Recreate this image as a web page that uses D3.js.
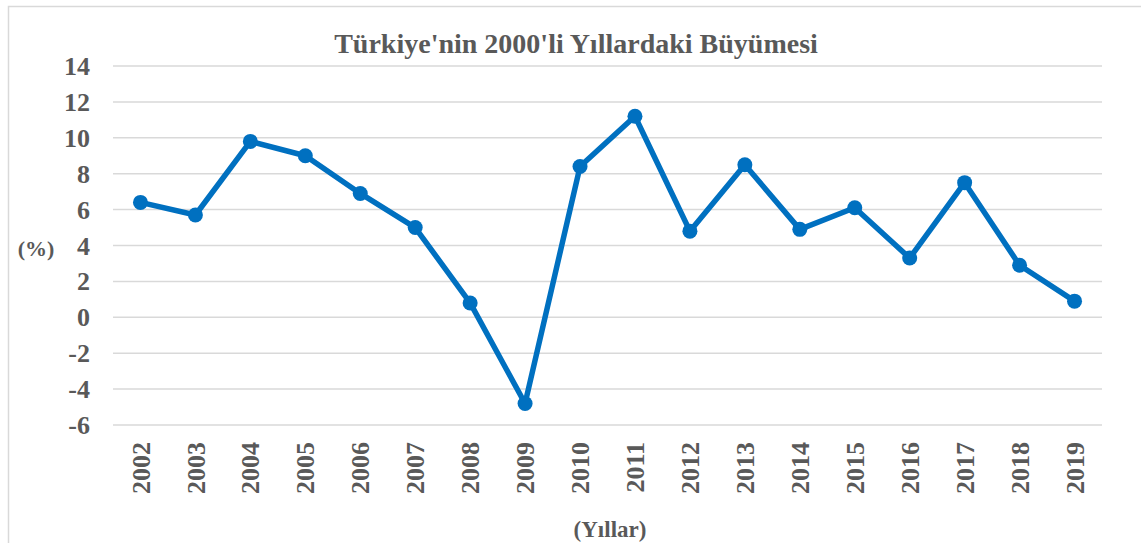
<!DOCTYPE html>
<html>
<head>
<meta charset="utf-8">
<script src="https://cdn.jsdelivr.net/npm/d3@7"></script>
<style>
  html, body { margin: 0; padding: 0; background: #fff; }
  svg { display: block; }
  svg text { font-family: "Liberation Serif", "DejaVu Serif", "Times New Roman", serif !important; font-weight: bold; fill: #595959; }
</style>
</head>
<body>
<div id="chart"></div>
<script>
// data
const years = ["2002", "2003", "2004", "2005", "2006", "2007", "2008", "2009", "2010",
  "2011", "2012", "2013", "2014", "2015", "2016", "2017", "2018", "2019"];
const growth = [6.4, 5.7, 9.8, 9.0, 6.9, 5.0, 0.8, -4.8, 8.4,
  11.2, 4.8, 8.5, 4.9, 6.1, 3.3, 7.5, 2.9, 0.9];
const yTicks = [-6, -4, -2, 0, 2, 4, 6, 8, 10, 12, 14];

const width = 1141, height = 543;
const margin = { top: 66, right: 39, bottom: 118, left: 113 };
const serif = "'Liberation Serif', 'DejaVu Serif', 'Times New Roman', serif";

const svg = d3.select("#chart")
  .append("svg")
  .attr("width", width)
  .attr("height", height)
  .attr("font-family", serif);

// chart frame
svg.append("rect")
  .attr("x", 8.5).attr("y", 6.5)
  .attr("width", width + 10).attr("height", height + 10)
  .attr("fill", "none")
  .attr("stroke", "#d9d9d9")
  .attr("stroke-width", 1.5);

const x = d3.scaleBand()
  .domain(years)
  .range([margin.left, width - margin.right]);

const y = d3.scaleLinear()
  .domain([-6, 14])
  .range([height - margin.bottom, margin.top]);

// gridlines
svg.append("g")
  .selectAll("line")
  .data(yTicks)
  .join("line")
  .attr("x1", margin.left)
  .attr("x2", width - margin.right)
  .attr("y1", (d) => y(d))
  .attr("y2", (d) => y(d))
  .attr("stroke", "#d9d9d9")
  .attr("stroke-width", 1.5);

// y axis labels
const yAxis = svg.append("g")
  .attr("transform", `translate(${margin.left - 23},0)`)
  .call(d3.axisLeft(y).tickValues(yTicks).tickSize(0).tickPadding(0)
    .tickFormat((d) => String(d)));
yAxis.attr("font-family", serif);
yAxis.select(".domain").remove();
yAxis.selectAll("text")
  .attr("font-size", 26)
  .attr("dy", "0.33em")
  .attr("fill", "#595959");

// x axis labels (rotated)
const xAxis = svg.append("g")
  .attr("transform", `translate(0,${y(-6) + 17})`)
  .call(d3.axisBottom(x).tickSize(0).tickPadding(0));
xAxis.attr("font-family", serif);
xAxis.select(".domain").remove();
xAxis.selectAll("text")
  .attr("font-size", 26)
  .attr("transform", "rotate(-90)")
  .attr("text-anchor", "end")
  .attr("x", 0)
  .attr("y", 0)
  .attr("dy", "0.35em")
  .attr("fill", "#595959");

// line + markers
const line = d3.line()
  .x((d, i) => x(years[i]) + x.bandwidth() / 2)
  .y((d) => y(d));

svg.append("path")
  .datum(growth)
  .attr("d", line)
  .attr("fill", "none")
  .attr("stroke", "#0070C0")
  .attr("stroke-width", 5.5)
  .attr("stroke-linejoin", "round");

svg.append("g")
  .selectAll("circle")
  .data(growth)
  .join("circle")
  .attr("cx", (d, i) => x(years[i]) + x.bandwidth() / 2)
  .attr("cy", (d) => y(d))
  .attr("r", 7.5)
  .attr("fill", "#0070C0");

// titles
svg.append("text")
  .attr("x", 576)
  .attr("y", 53)
  .attr("text-anchor", "middle")
  .attr("font-size", 28)
  .text("Türkiye'nin 2000'li Yıllardaki Büyümesi");

svg.append("text")
  .attr("x", 36)
  .attr("y", 256)
  .attr("text-anchor", "middle")
  .attr("font-size", 22)
  .text("(%)");

svg.append("text")
  .attr("x", 610)
  .attr("y", 537)
  .attr("text-anchor", "middle")
  .attr("font-size", 23)
  .text("(Yıllar)");
</script>
</body>
</html>
